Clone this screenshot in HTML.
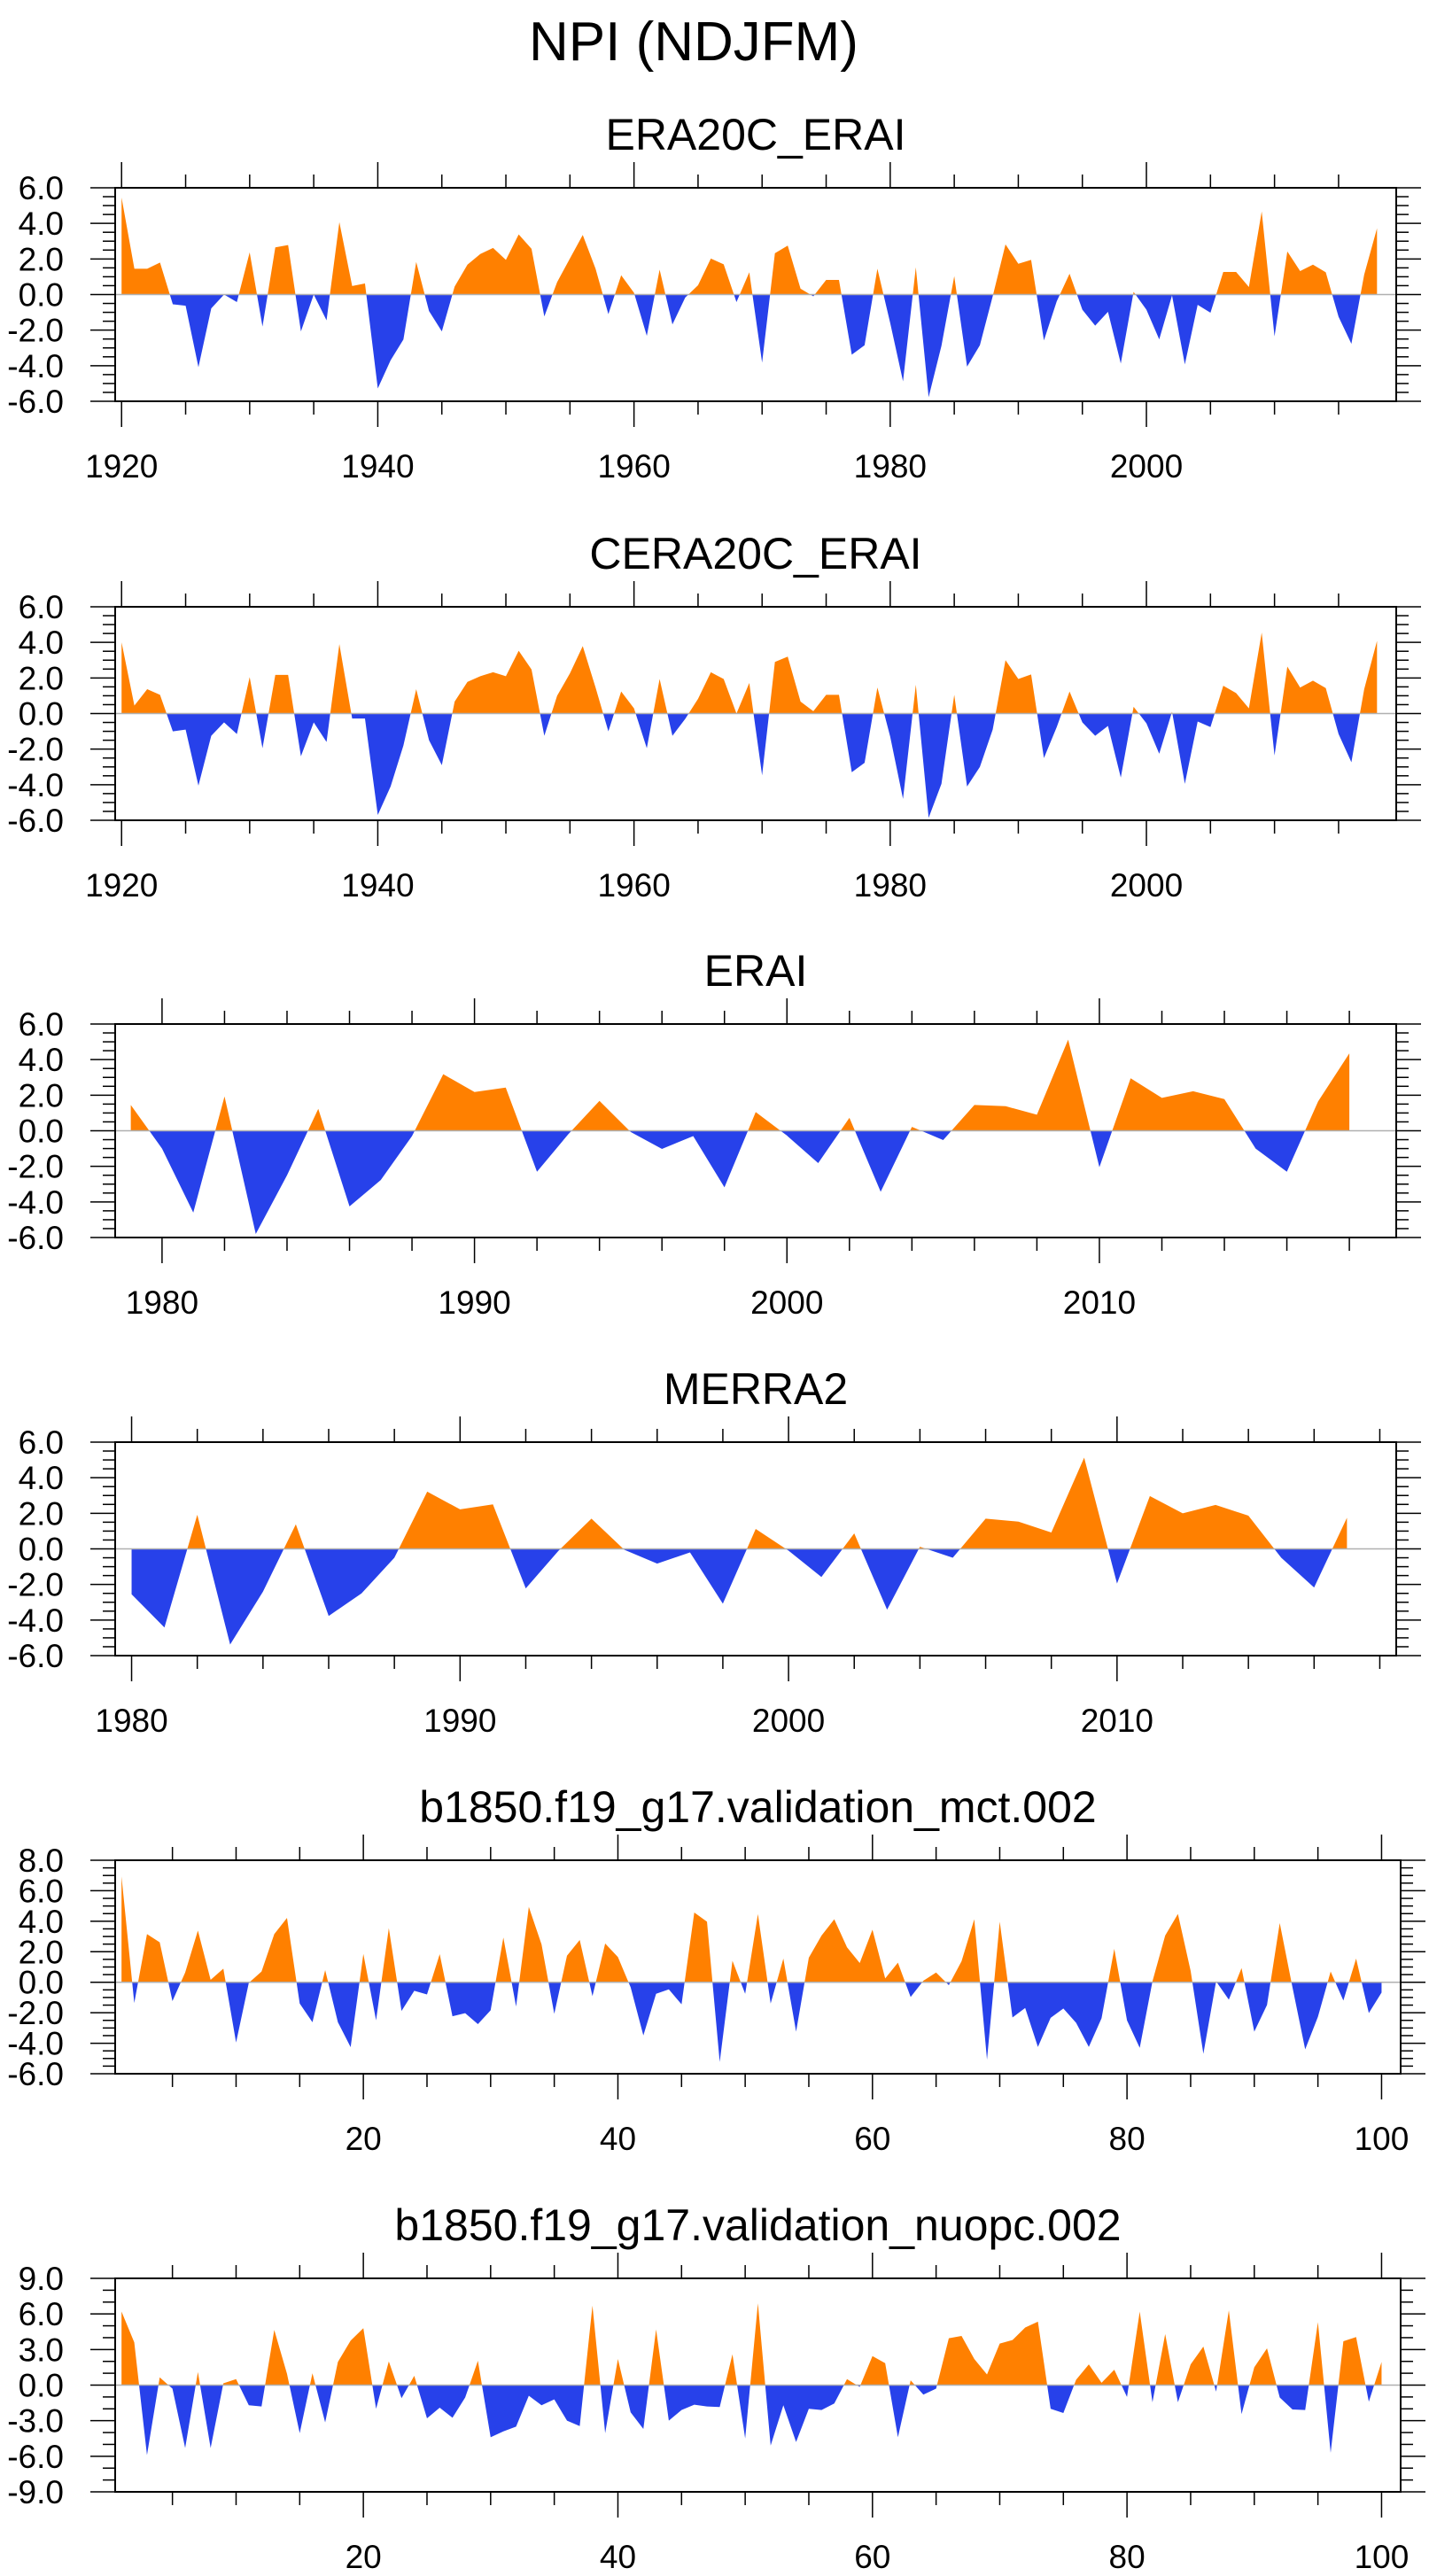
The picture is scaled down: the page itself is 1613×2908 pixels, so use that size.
<!DOCTYPE html>
<html>
<head>
<meta charset="utf-8">
<style>
  html,body{margin:0;padding:0;background:#fff;}
  svg{display:block;}
  text{font-family:"Liberation Sans", Arial, sans-serif; fill:#000;}
</style>
</head>
<body>
<svg id="chart" width="1613" height="2908" viewBox="0 0 1613 2908" xmlns="http://www.w3.org/2000/svg">
  <text x="783" y="68" font-size="62" text-anchor="middle">NPI (NDJFM)</text>
</svg>
<script>
// ---------- data ----------
const era20cStart = 1920;
const era20cValues = [5.45,1.45,1.45,1.8,-0.55,-0.63,-4.08,-0.78,0,-0.42,
 2.37,-1.8,2.65,2.78,-2.07,0,-1.45,4.07,0.48,0.62,
 -5.28,-3.7,-2.53,1.83,-0.93,-2.07,0.45,1.68,2.28,2.62,
 1.95,3.38,2.57,-1.23,0.7,2.03,3.35,1.45,-1.1,1.08,
 0.1,-2.32,1.4,-1.68,-0.17,0.52,2.02,1.7,-0.42,1.25,
 -3.83,2.32,2.75,0.33,-0.1,0.82,0.82,-3.38,-2.85,1.45,
 -1.6,-4.88,1.53,-5.77,-2.88,1.03,-4.05,-2.85,-0.1,2.82,
 1.73,1.95,-2.58,-0.38,1.17,-0.85,-1.75,-0.97,-3.88,0.15,
 -0.85,-2.52,-0.05,-3.93,-0.58,-1.02,1.27,1.27,0.42,4.67,
 -2.35,2.42,1.32,1.68,1.25,-1.25,-2.77,1.12,3.72];
const cera20cStart = 1920;
const cera20cValues = [4.0,0.45,1.37,1.05,-1.0,-0.9,-4.05,-1.25,-0.5,-1.15,
 2.05,-1.95,2.17,2.17,-2.4,-0.5,-1.6,3.9,-0.28,-0.28,
 -5.7,-4.1,-1.8,1.37,-1.5,-2.9,0.67,1.78,2.1,2.32,
 2.1,3.53,2.48,-1.25,1.0,2.26,3.79,1.46,-1.0,1.24,
 0.29,-1.95,1.94,-1.25,-0.3,0.83,2.32,1.94,0,1.72,
 -3.47,2.9,3.2,0.67,0.13,1.05,1.05,-3.3,-2.77,1.46,
 -1.3,-4.8,1.62,-5.86,-3.95,1.05,-4.1,-3.0,-0.9,3.0,
 1.94,2.2,-2.5,-0.76,1.24,-0.5,-1.25,-0.7,-3.6,0.38,
 -0.55,-2.26,0.1,-3.95,-0.45,-0.76,1.56,1.15,0.29,4.55,
 -2.36,2.64,1.46,1.85,1.43,-1.15,-2.74,1.37,4.08];
const eraiStart = 1979;
const eraiValues = [1.45,-1.0,-4.6,1.93,-5.8,-2.5,1.23,-4.25,-2.77,-0.3,
 3.18,2.18,2.43,-2.3,-0.2,1.68,-0.07,-1.02,-0.3,-3.18,
 1.05,-0.27,-1.82,0.73,-3.43,0.22,-0.52,1.45,1.38,0.9,
 5.12,-2.05,2.95,1.85,2.22,1.78,-1.0,-2.3,1.65,4.35];
const merra2Start = 1980;
const merra2Values = [-2.55,-4.42,1.92,-5.38,-2.4,1.38,-3.77,-2.5,-0.5,3.22,
 2.22,2.5,-2.22,-0.1,1.7,-0.05,-0.83,-0.2,-3.08,1.12,
 -0.1,-1.58,0.87,-3.42,0.12,-0.5,1.7,1.53,0.92,5.13,
 -1.95,2.97,2.0,2.47,1.87,-0.5,-2.17,1.75];
const mctStart = 1;
const mctValues = [6.94,-1.36,3.16,2.62,-1.24,0.64,3.39,0.16,0.89,-3.95,
 -0.04,0.7,3.16,4.22,-1.4,-2.62,0.8,-2.62,-4.26,1.86,
 -2.5,3.55,-1.88,-0.56,-0.8,1.84,-2.23,-2.03,-2.75,-1.84,
 2.93,-1.59,4.94,2.48,-2.07,1.74,2.77,-0.91,2.54,1.65,
 -0.33,-3.49,-0.76,-0.47,-1.45,4.57,3.97,-5.23,1.41,-0.76,
 4.47,-1.4,1.55,-3.24,1.61,3.06,4.13,2.29,1.26,3.45,
 0.25,1.28,-0.97,0.1,0.64,-0.19,1.38,4.13,-5.08,3.97,
 -2.31,-1.69,-4.24,-2.33,-1.72,-2.66,-4.24,-2.36,2.19,-2.5,
 -4.3,0.06,3.06,4.48,0.74,-4.69,0.06,-1.14,0.93,-3.24,
 -1.49,3.88,-0.33,-4.4,-2.27,0.7,-1.2,1.55,-2.02,-0.68];
const nuopcStart = 1;
const nuopcValues = [6.2,3.6,-5.9,0.65,-0.3,-5.3,1.1,-5.3,0.15,0.5,
 -1.7,-1.8,4.65,0.95,-4.05,1.0,-3.15,1.95,3.75,4.8,
 -2.0,2.0,-1.1,0.78,-2.8,-1.9,-2.75,-1.05,2.05,-4.4,
 -3.9,-3.5,-0.9,-1.7,-1.2,-3.0,-3.45,6.7,-4.05,2.2,
 -2.3,-3.7,4.7,-3.0,-2.1,-1.65,-1.8,-1.85,2.6,-4.5,
 6.9,-5.1,-1.7,-4.8,-2.0,-2.1,-1.55,0.5,-0.15,2.45,
 1.85,-4.4,0.4,-0.8,-0.3,3.95,4.15,2.2,0.9,3.5,
 3.8,4.85,5.35,-2.0,-2.35,0.45,1.75,0.2,1.3,-1.0,
 6.2,-1.45,4.3,-1.45,1.75,3.25,-0.55,6.3,-2.45,1.5,
 3.1,-1.05,-2.05,-2.1,5.3,-5.7,3.7,4.05,-1.4,1.95];

// tick label arrays
const yearTicks20 = [1920,1940,1960,1980,2000];
const yearTicks10a = [1980,1990,2000,2010];
const runTicks = [20,40,60,80,100];
const yTicks6 = [6,4,2,0,-2,-4,-6];
const yTicks8 = [8,6,4,2,0,-2,-4,-6];
const yTicks9 = [9,6,3,0,-3,-6,-9];

const panels = [
  {title:"ERA20C_ERAI", start:era20cStart, vals:era20cValues, top:212, left:130, right:1576, xmin:1919.5, xmax:2019.5, ymin:-6, ymax:6, yt:yTicks6, ymin_step:0.5, xt:yearTicks20, xminor:5, name:"era20c-erai"},
  {title:"CERA20C_ERAI", start:cera20cStart, vals:cera20cValues, top:685, left:130, right:1576, xmin:1919.5, xmax:2019.5, ymin:-6, ymax:6, yt:yTicks6, ymin_step:0.5, xt:yearTicks20, xminor:5, name:"cera20c-erai"},
  {title:"ERAI", start:eraiStart, vals:eraiValues, top:1156, left:130, right:1576, xmin:1978.5, xmax:2019.5, ymin:-6, ymax:6, yt:yTicks6, ymin_step:0.5, xt:yearTicks10a, xminor:2, name:"erai"},
  {title:"MERRA2", start:merra2Start, vals:merra2Values, top:1628, left:130, right:1576, xmin:1979.5, xmax:2018.5, ymin:-6, ymax:6, yt:yTicks6, ymin_step:0.5, xt:yearTicks10a, xminor:2, name:"merra2"},
  {title:"b1850.f19_g17.validation_mct.002", start:mctStart, vals:mctValues, top:2100, left:130, right:1581, xmin:0.5, xmax:101.5, ymin:-6, ymax:8, yt:yTicks8, ymin_step:0.5, xt:runTicks, xminor:5, name:"mct"},
  {title:"b1850.f19_g17.validation_nuopc.002", start:nuopcStart, vals:nuopcValues, top:2572, left:130, right:1581, xmin:0.5, xmax:101.5, ymin:-9, ymax:9, yt:yTicks9, ymin_step:1, xt:runTicks, xminor:5, name:"nuopc"}
];
const H = 241;
const NS = "http://www.w3.org/2000/svg";
const svg = document.getElementById('chart');

function mk(tag, attrs, parent){
  const e = document.createElementNS(NS, tag);
  for (const k in attrs) e.setAttribute(k, attrs[k]);
  parent.appendChild(e);
  return e;
}
function fmt(v){ return v.toFixed(1); }

panels.forEach(p => {
  const g = mk('g', {}, svg);
  
  
  const bot = p.top + H;
  const xs = v => p.left + (v - p.xmin) / (p.xmax - p.xmin) * (p.right - p.left);
  const ys = v => p.top + (p.ymax - v) / (p.ymax - p.ymin) * H;

  const t = mk('text', {x:(p.left+p.right)/2, y:p.top-43, 'font-size':50, 'text-anchor':'middle'}, g);
  t.textContent = p.title;
  
  

  const pts = [];
  for (let i = 0; i < p.vals.length; i++) {
    const x = p.start + i, v = p.vals[i];
    if (i > 0) {
      const px = x - 1, pv = p.vals[i-1];
      if ((pv > 0 && v < 0) || (pv < 0 && v > 0)) {
        const xc = px + pv / (pv - v);
        pts.push([xc, 0]);
      }
    }
    pts.push([x, v]);
  }
  const x0 = pts[0][0], x1 = pts[pts.length-1][0];
  let dPos = 'M' + xs(x0) + ',' + ys(0);
  let dNeg = 'M' + xs(x0) + ',' + ys(0);
  pts.forEach(q => {
    dPos += ' L' + xs(q[0]).toFixed(2) + ',' + ys(Math.max(q[1],0)).toFixed(2);
    dNeg += ' L' + xs(q[0]).toFixed(2) + ',' + ys(Math.min(q[1],0)).toFixed(2);
  });
  dPos += ' L' + xs(x1) + ',' + ys(0) + ' Z';
  dNeg += ' L' + xs(x1) + ',' + ys(0) + ' Z';
  const pos = mk('path', {d:dPos, fill:'#ff8000', stroke:'none'}, g);
  
  
  const neg = mk('path', {d:dNeg, fill:'#2741ea', stroke:'none'}, g);
  
  

  const zl = mk('line', {x1:p.left, x2:p.right, y1:ys(0), y2:ys(0), stroke:'#b0b0b0', 'stroke-width':1.5}, g);
  
  

  const box = mk('rect', {x:p.left, y:p.top, width:p.right-p.left, height:H, fill:'none', stroke:'#000', 'stroke-width':2}, g);
  
  

  const ymajStep = p.yt[0] - p.yt[1];
  for (let v = p.ymin; v <= p.ymax + 1e-9; v += p.ymin_step) {
    const isMaj = Math.abs(v / ymajStep - Math.round(v / ymajStep)) < 1e-6;
    const len = isMaj ? 28 : 14;
    const y = ys(v);
    mk('line', {x1:p.left-len, x2:p.left, y1:y, y2:y, stroke:'#000', 'stroke-width':1.5}, g);
    mk('line', {x1:p.right, x2:p.right+len, y1:y, y2:y, stroke:'#000', 'stroke-width':1.5}, g);
  }
  p.yt.forEach(v => {
    const lt = mk('text', {x:72, y:ys(v)+13, 'font-size':37, 'text-anchor':'end'}, g);
    lt.textContent = fmt(v);
    
    
  });

  const xmajStep = p.xt[1] - p.xt[0];
  const startTick = Math.ceil(p.xmin / p.xminor) * p.xminor;
  for (let v = startTick; v <= p.xmax; v += p.xminor) {
    const isMaj = (v % xmajStep) === 0;
    const len = isMaj ? 29 : 15;
    const x = xs(v);
    mk('line', {x1:x, x2:x, y1:p.top-len, y2:p.top, stroke:'#000', 'stroke-width':1.5}, g);
    mk('line', {x1:x, x2:x, y1:bot, y2:bot+len, stroke:'#000', 'stroke-width':1.5}, g);
  }
  p.xt.forEach(v => {
    const lt = mk('text', {x:xs(v), y:bot+86, 'font-size':37, 'text-anchor':'middle'}, g);
    lt.textContent = String(v);
    
    
  });
});
</script>
</body>
</html>
